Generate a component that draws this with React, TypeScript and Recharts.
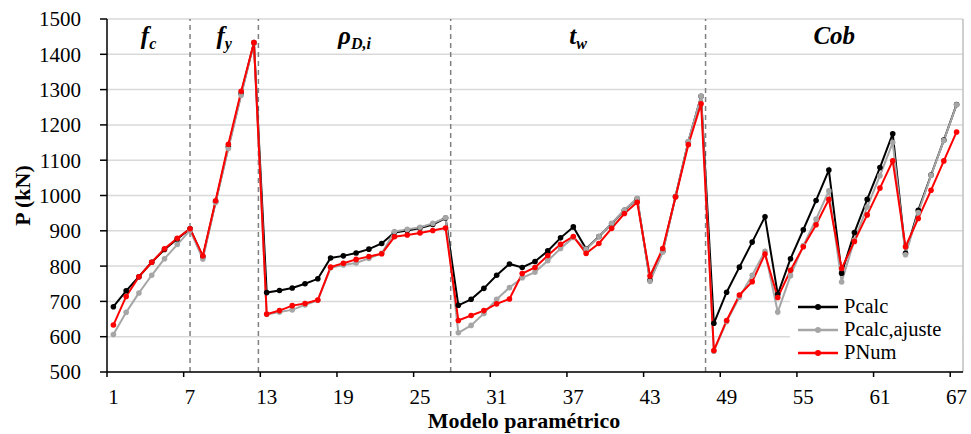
import React from 'react';
import {
  LineChart,
  Line,
  XAxis,
  YAxis,
  CartesianGrid,
  ReferenceLine,
  ReferenceDot,
  Legend,
} from 'recharts';

// ---- data ----
const MODELS = [
  1, 2, 3, 4, 5, 6, 7, 8, 9, 10, 11, 12, 13, 14, 15, 16, 17, 18, 19, 20, 21, 22, 23, 24, 25, 26, 27, 28, 29, 30,
  31, 32, 33, 34, 35, 36, 37, 38, 39, 40, 41, 42, 43, 44, 45, 46, 47, 48, 49, 50, 51, 52, 53, 54, 55, 56, 57, 58,
  59, 60, 61, 62, 63, 64, 65, 66, 67,
];

const PCALC = [
  685, 730, 770, 811, 847, 877, 906, 826, 982, 1138, 1288, 1433,
  725, 731, 738, 750, 764, 823, 829, 837, 848, 864, 895, 901, 908, 918, 936,
  689, 706, 737, 774, 806, 796, 813, 843, 880, 911, 849, 884, 920, 958, 991, 760, 842, 997, 1152, 1281,
  638, 726, 797, 868, 940, 720, 821, 903, 986, 1072, 780, 895, 989, 1079, 1175, 836, 958, 1058, 1157, 1258,
];

const PCALC_AJUSTE = [
  606, 669, 724, 774, 821, 861, 901, 820, 980, 1133, 1284, 1433,
  663, 670, 676, 690, 703, 795, 803, 809, 822, 836, 898, 904, 910, 921, 937,
  611, 632, 666, 706, 739, 767, 783, 815, 850, 881, 848, 884, 921, 959, 992, 757, 840, 998, 1153, 1281,
  559, 643, 712, 774, 842, 670, 773, 858, 933, 1013, 755, 874, 967, 1056, 1150, 832, 952, 1057, 1156, 1257,
];

const PNUM = [
  633, 714, 770, 811, 849, 879, 906, 829, 985, 1145, 1295, 1433,
  664, 674, 688, 694, 704, 797, 808, 819, 827, 835, 883, 888, 894, 901, 908,
  646, 660, 674, 693, 707, 779, 796, 830, 862, 884, 836, 864, 907, 949, 981, 772, 850, 996, 1144, 1260,
  561, 646, 718, 756, 834, 711, 788, 855, 917, 989, 793, 870, 945, 1021, 1098, 855, 935, 1015, 1098, 1180,
];

const X_TICK_LABELS = [1, 7, 13, 19, 25, 31, 37, 43, 49, 55, 61, 67];
const Y_TICKS = [500, 600, 700, 800, 900, 1000, 1100, 1200, 1300, 1400, 1500];

// group separators (model index positions) and group names
const GROUP_BOUNDS = [0.5, 7, 12.35, 27.4, 47.35, 67.5];
const GROUP_NAMES: [string, string][] = [
  ['f', 'c'],
  ['f', 'y'],
  ['ρ', 'D,i'],
  ['t', 'w'],
  ['Cob', ''],
];

const SERIES = [
  { key: 'pcalc', name: 'Pcalc', color: '#000000' },
  { key: 'pcalcAjuste', name: 'Pcalc,ajuste', color: '#a6a6a6' },
  { key: 'pnum', name: 'PNum', color: '#ff0000' },
];

const data = MODELS.map((m, i) => ({
  model: m,
  pcalc: PCALC[i],
  pcalcAjuste: PCALC_AJUSTE[i],
  pnum: PNUM[i],
}));

const FONT = '"Liberation Serif", "Times New Roman", serif';
const HALF_STEP_PX = 6.39;

const XTick = (props: any) => {
  const { x, y, payload } = props;
  return (
    <text
      x={x + HALF_STEP_PX}
      y={y}
      dy="0.71em"
      textAnchor="middle"
      fontFamily={FONT}
      fontSize={21}
      fill="#000"
    >
      {payload.value + 0.5}
    </text>
  );
};

const YTick = (props: any) => {
  const { x, y, payload } = props;
  return (
    <text x={x} y={y} dy="0.355em" textAnchor="end" fontFamily={FONT} fontSize={21} fill="#000">
      {payload.value}
    </text>
  );
};

const makeGroupLabel = (main: string, sub: string) => (props: any) => {
  const vb = props.viewBox || {};
  const cx = (vb.x ?? 0) + (vb.width ?? 0) / 2;
  const cy = (vb.y ?? 0) + (vb.height ?? 0) / 2;
  return (
    <text
      x={cx}
      y={cy}
      textAnchor="middle"
      fontFamily={FONT}
      fontWeight="bold"
      fontStyle="italic"
      fontSize={25}
      fill="#000"
    >
      <tspan>{main}</tspan>
      {sub ? (
        <tspan dy={5} fontSize={16}>
          {sub}
        </tspan>
      ) : null}
    </text>
  );
};

const XTitle = (props: any) => {
  const vb = props.viewBox || {};
  return (
    <text
      x={(vb.x ?? 0) + (vb.width ?? 0) / 2 - 11}
      y={428}
      textAnchor="middle"
      fontFamily={FONT}
      fontWeight="bold"
      fontSize={22}
      fill="#000"
    >
      Modelo paramétrico
    </text>
  );
};

const YTitle = (props: any) => {
  const vb = props.viewBox || {};
  const cy = (vb.y ?? 0) + (vb.height ?? 0) / 2;
  const cx = 22;
  return (
    <text
      x={cx}
      y={cy}
      transform={`rotate(-90 ${cx} ${cy})`}
      textAnchor="middle"
      dy="0.35em"
      fontFamily={FONT}
      fontWeight="bold"
      fontSize={22}
      fill="#000"
    >
      P (kN)
    </text>
  );
};

const LegendContent = () => (
  <div
    style={{
      background: '#fff',
      padding: '5px 4px 6px 8px',
      fontFamily: FONT,
      fontSize: 20.5,
      color: '#000',
      lineHeight: '23px',
    }}
  >
    {SERIES.map((s) => (
      <div key={s.key} style={{ display: 'flex', alignItems: 'center', height: 23 }}>
        <svg width={40} height={10} style={{ marginRight: 6 }}>
          <line x1={0} y1={5} x2={40} y2={5} stroke={s.color} strokeWidth={2.5} />
          <circle cx={20} cy={5} r={3} fill={s.color} />
        </svg>
        <span>{s.name}</span>
      </div>
    ))}
  </div>
);

export default function App() {
  const groupCenters = GROUP_NAMES.map((_, i) => (GROUP_BOUNDS[i] + GROUP_BOUNDS[i + 1]) / 2);
  return (
    <div style={{ position: 'absolute', left: 0, top: 0, width: 971, height: 434, background: '#fff' }}>
      <LineChart width={971} height={434} data={data} margin={{ top: 19, right: 8, bottom: 0, left: 0 }}>
        <CartesianGrid horizontal vertical={false} stroke="#d9d9d9" strokeWidth={1.5} />
        <XAxis
          dataKey="model"
          type="number"
          domain={[0.5, 67.5]}
          ticks={X_TICK_LABELS.map((t) => t - 0.5)}
          tick={<XTick />}
          tickSize={5}
          tickMargin={12}
          height={62}
          axisLine={{ stroke: '#000', strokeWidth: 1.5 }}
          tickLine={{ stroke: '#000', strokeWidth: 1.5 }}
          interval={0}
          allowDecimals
          label={{ content: XTitle } as any}
        />
        <YAxis
          type="number"
          domain={[500, 1500]}
          ticks={Y_TICKS}
          tick={<YTick />}
          width={107}
          tickSize={7}
          tickMargin={19}
          axisLine={{ stroke: '#000', strokeWidth: 1.5 }}
          tickLine={{ stroke: '#000', strokeWidth: 1.5 }}
          interval={0}
          label={{ content: YTitle } as any}
        />
        {GROUP_BOUNDS.slice(1, -1).map((b) => (
          <ReferenceLine key={b} x={b} stroke="#808080" strokeWidth={1.5} strokeDasharray="5 4" />
        ))}
        <ReferenceLine x={67.5} stroke="#bfbfbf" strokeWidth={1.5} />
        {GROUP_NAMES.map(([main, sub], i) => (
          <ReferenceDot
            key={main + sub}
            x={groupCenters[i]}
            y={1428}
            r={0}
            fill="none"
            stroke="none"
            ifOverflow="visible"
            label={{ content: makeGroupLabel(main, sub) } as any}
          />
        ))}
        {SERIES.map((s) => (
          <Line
            key={s.key}
            dataKey={s.key}
            name={s.name}
            type="linear"
            stroke={s.color}
            strokeWidth={2}
            dot={{ r: 2.8, fill: s.color, stroke: s.color, strokeWidth: 0 }}
            activeDot={false}
            isAnimationActive={false}
          />
        ))}
        <Legend
          layout="vertical"
          align="center"
          verticalAlign="middle"
          content={<LegendContent />}
          wrapperStyle={{ position: 'absolute', left: 790, top: 290, width: 172 }}
        />
      </LineChart>
    </div>
  );
}
